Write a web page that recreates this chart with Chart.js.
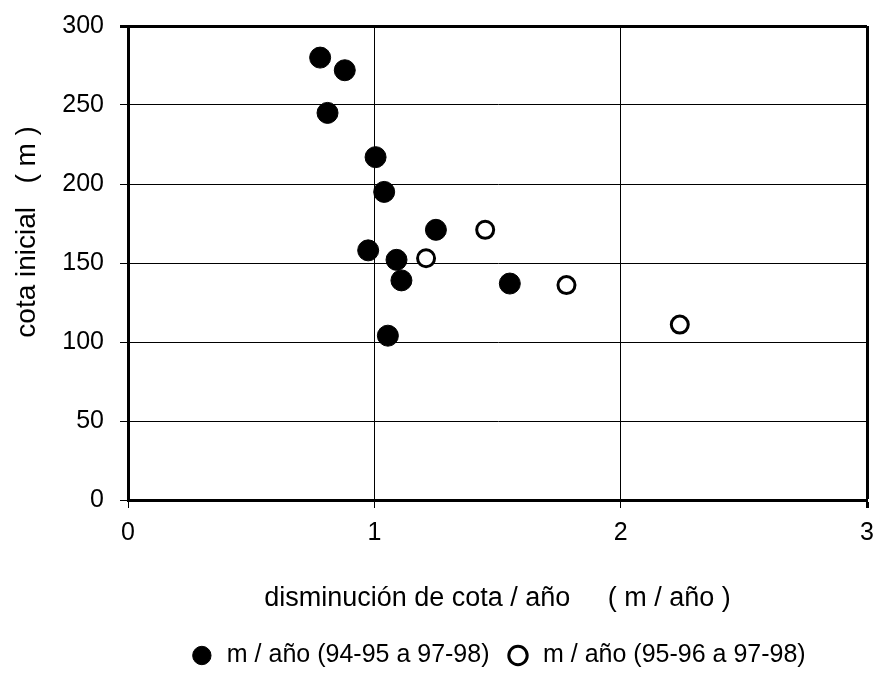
<!DOCTYPE html>
<html>
<head>
<meta charset="utf-8">
<script src="https://cdn.jsdelivr.net/npm/chart.js@4.4.0/dist/chart.umd.min.js"></script>
<style>
  html, body { margin: 0; padding: 0; background: #fff; }
  #wrap { width: 874px; height: 690px; }
</style>
</head>
<body>
<div id="wrap"><canvas id="chart" width="874" height="690"></canvas></div>
<script>
// m / año (94-95 a 97-98) : disminución, cota
const rate9495 = [0.78, 0.88, 0.81, 1.005, 1.04, 1.25, 0.975, 1.09, 1.11, 1.55, 1.055];
const cota9495 = [280, 272, 245, 217, 195, 171, 158, 152, 139, 137, 104];

// m / año (95-96 a 97-98)
const rate9596 = [1.45, 1.21, 1.78, 2.24];
const cota9596 = [171, 153, 136, 111];

const xTicks = [0, 1, 2, 3];
const yTicks = [0, 50, 100, 150, 200, 250, 300];

const seriesNames = ["m / año (94-95 a 97-98)", "m / año (95-96 a 97-98)"];
const xTitle = "disminución de cota / año     ( m / año )";
const yTitle = "        cota inicial   ( m )";

const toPoints = (xs, ys) => xs.map((x, i) => ({ x, y: ys[i] }));
const family = "'Liberation Sans', Arial, sans-serif";
const tickFont = { family, size: 25 };
const titleFont = { family, size: 27 };
const yTitleFont = { family, size: 28 };
const legendFont = { family, size: 25 };

Chart.defaults.color = "#000";
Chart.defaults.font.family = family;

new Chart(document.getElementById("chart").getContext("2d"), {
  type: "scatter",
  data: {
    datasets: [
      {
        label: seriesNames[0],
        data: toPoints(rate9495, cota9495),
        pointStyle: "circle",
        pointRadius: 10.5,
        pointHoverRadius: 10.5,
        backgroundColor: "#000",
        borderColor: "#000",
        borderWidth: 1
      },
      {
        label: seriesNames[1],
        data: toPoints(rate9596, cota9596),
        pointStyle: "circle",
        pointRadius: 8.5,
        pointHoverRadius: 8.5,
        backgroundColor: "#fff",
        borderColor: "#000",
        borderWidth: 3
      }
    ]
  },
  options: {
    responsive: false,
    animation: false,
    layout: { autoPadding: false, padding: { left: 0, right: 7, top: 26, bottom: 12 } },
    plugins: {
      tooltip: { enabled: false },
      legend: {
        position: "bottom",
        fullSize: false,
        labels: {
          usePointStyle: true,
          boxHeight: 13,
          padding: 16,
          color: "#000",
          font: legendFont
        }
      }
    },
    scales: {
      x: {
        type: "linear",
        min: 0,
        max: 3,
        afterBuildTicks: s => { s.ticks = xTicks.map(v => ({ value: v })); },
        afterFit: s => { s.height = 127; s.paddingLeft = 0; s.paddingRight = 0; },
        grid: {
          color: "#000",
          lineWidth: c => (c.tick && c.tick.value === 3 ? 3 : 1),
          tickLength: 8
        },
        border: { color: "#000", width: 3 },
        ticks: { padding: 10, color: "#000", font: tickFont },
        title: { display: true, text: xTitle, color: "#000", font: titleFont, padding: { top: 0, bottom: 12 } }
      },
      y: {
        type: "linear",
        min: 0,
        max: 300,
        afterBuildTicks: s => { s.ticks = yTicks.map(v => ({ value: v })); },
        afterFit: s => { s.width = 128; s.paddingTop = 0; s.paddingBottom = 0; },
        grid: {
          color: "#000",
          lineWidth: c => (c.tick && c.tick.value === 300 ? 3 : 1),
          tickLength: 8
        },
        border: { color: "#000", width: 3 },
        ticks: { padding: 16, color: "#000", font: tickFont },
        title: { display: true, text: yTitle, color: "#000", font: yTitleFont, padding: { top: 10, bottom: 0 } }
      }
    }
  }
});
</script>
</body>
</html>
